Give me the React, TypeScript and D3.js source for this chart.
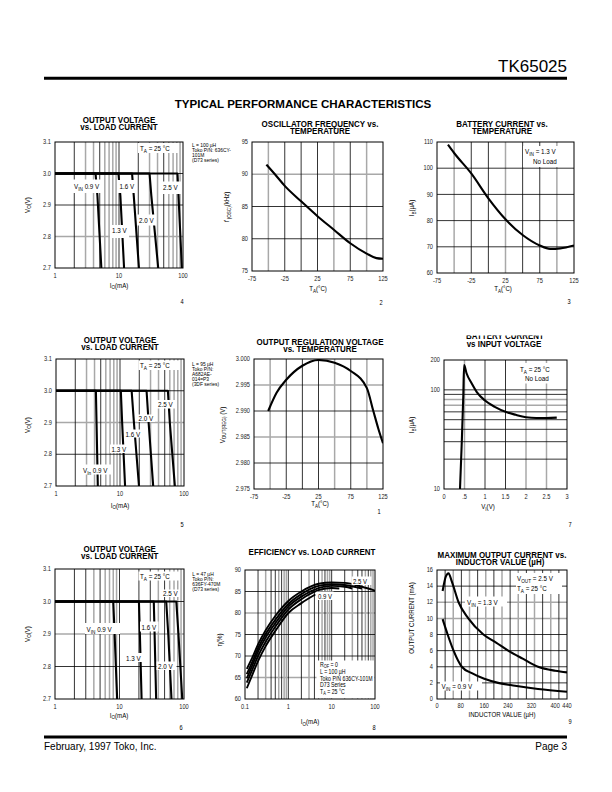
import React from 'react';
import * as d3 from 'd3';

type Pt = [number, number];
type Part = [string, string?];

const FF = '"Liberation Sans", Arial, Helvetica, sans-serif';
const GRAY = '#a8a8a8';

// ---------------- shared axis values ----------------
const loadTicks = [1, 10, 100];
const voTicks = [2.7, 2.8, 2.9, 3.0, 3.1];
const tempTicks = [-75, -25, 25, 75, 125];
const tempGrid = [-50, -25, 0, 25, 50, 75, 100];

// ---------------- graph 4 : L = 100 uH ----------------
const g4Drop = [3.0, 3.0, 2.93, 2.7];
const g4I09 = [1, 4.3, 4.6, 5.3];
const g4I13 = [1, 9.8, 10.5, 12];
const g4I16 = [1, 16, 17, 20.5];
const g4I20 = [1, 30, 32, 41];
const g4I25 = [1, 82, 85, 96];

// ---------------- graph 5 : L = 95 uH ----------------
const g5Drop = [3.0, 3.0, 2.9, 2.7];
const g5I09 = [1, 4.2, 4.3, 4.5];
const g5I13 = [1, 10.3, 10.8, 12];
const g5I16 = [1, 15.2, 16.5, 19.8];
const g5I20 = [1, 26, 28, 33];
const g5I25 = [1, 56, 60, 72];

// ---------------- graph 6 : L = 47 uH ----------------
const g6Drop = [3.0, 3.0, 2.9, 2.7];
const g6I09 = [1, 8.0, 8.4, 9.2];
const g6I13 = [1, 20, 20.7, 22];
const g6I16 = [1, 34, 35, 37];
const g6I20 = [1, 53, 57, 64];
const g6I25 = [1, 76, 82, 94];

// ---------------- graph 2 : oscillator frequency ----------------
const oscTicks = [75, 80, 85, 90, 95];
const oscTemp = [-53, -40, -25, 0, 25, 50, 75, 100, 115, 125];
const oscFreq = [91.5, 90.0, 88.2, 85.8, 83.5, 81.4, 79.3, 77.7, 77.0, 76.9];

// ---------------- graph 3 : battery current vs temperature ----------------
const batTicks = [60, 70, 80, 90, 100, 110];
const batTemp = [-59, -50, -25, 0, 25, 50, 75, 90, 105, 125];
const batCur = [109, 105.8, 98, 88.5, 80.5, 74.5, 70.5, 69.2, 69.4, 70.5];

// ---------------- graph 1 : output regulation voltage ----------------
const regTicks = [2.975, 2.98, 2.985, 2.99, 2.995, 3.0];
const regTemp = [-53, -40, -25, 0, 25, 50, 75, 100, 110, 118, 125];
const regVolt = [2.99, 2.9935, 2.996, 2.9987, 2.9998, 2.9993, 2.9977, 2.9944, 2.99, 2.9865, 2.9838];

// ---------------- graph 7 : battery current vs input voltage ----------------
const vinTicks = [0, 0.5, 1, 1.5, 2, 2.5, 3];
const vinTickLabels = ['0', '.5', '1', '1.5', '2', '2.5', '3'];
const ibTicks = [10, 100, 200];
const vinV = [0.39, 0.43, 0.47, 0.49, 0.55, 0.67, 0.8, 1.0, 1.25, 1.5, 1.75, 2.0, 2.25, 2.5, 2.75];
const vinIb = [10, 27, 85, 178, 147, 117, 95, 78, 67, 60, 56, 53, 52, 52, 52.5];

// ---------------- graph 8 : efficiency ----------------
const effLoadTicks = [0.1, 1, 10, 100];
const effLoadLabels = ['0.1', '1', '10', '100'];
const effTicks = [60, 65, 70, 75, 80, 85, 90];
const eff09I = [0.11, 0.15, 0.2, 0.3, 0.5, 1, 2, 4.2];
const eff09E = [62.5, 65.8, 68.8, 72.3, 75.8, 80, 82.3, 84.3];
const eff13I = [0.11, 0.15, 0.2, 0.3, 0.5, 1, 2, 5, 10, 15];
const eff13E = [63.8, 67, 70, 73.3, 76.8, 80.8, 83.2, 85.3, 85.8, 85.7];
const eff16I = [0.11, 0.15, 0.2, 0.3, 0.5, 1, 2, 5, 10, 20, 30];
const eff16E = [64.8, 68, 71, 74.3, 77.6, 81.5, 83.8, 85.8, 86.3, 86.1, 85.7];
const eff20I = [0.11, 0.15, 0.2, 0.3, 0.5, 1, 2, 5, 10, 20, 50];
const eff20E = [65.8, 68.8, 71.8, 75.1, 78.4, 82.1, 84.4, 86.3, 86.7, 86.5, 85.7];
const eff25I = [0.11, 0.15, 0.2, 0.3, 0.5, 1, 2, 5, 10, 20, 50, 100];
const eff25E = [67, 69.8, 72.7, 76, 79.3, 82.8, 85, 86.8, 87.1, 87, 86.1, 85.2];

// ---------------- graph 9 : max output current vs inductor ----------------
const indTicks = [0, 80, 160, 240, 320, 400, 440];
const ioTicks = [0, 2, 4, 6, 8, 10, 12, 14, 16];
const ind13L = [19, 30, 39, 50, 73, 106, 157, 200, 241, 290, 342, 400, 440];
const ind13I = [13.4, 15.2, 15.6, 14.6, 12, 10, 8, 7, 6, 5, 4, 3.5, 3.3];
const ind09L = [19, 36, 56, 84, 118, 160, 207, 264, 342, 440];
const ind09I = [9.9, 8, 6, 4, 3.2, 2.5, 2, 1.65, 1.25, 0.9];

// ---------------- helpers ----------------
const zip = (xs: number[], ys: number[]): Pt[] => xs.map((x, i) => [x, ys[i]] as Pt);
const mant = (v: number) => Math.round(v / Math.pow(10, Math.floor(Math.log10(v) + 1e-9)));

function parts(ps: Part[], fs: number) {
  let cur = 0;
  return ps.map(([s, k], i) => {
    const small = k === 's' || k === 'u';
    const target = k === 's' ? fs * 0.28 : k === 'u' ? -fs * 0.35 : 0;
    const dy = target - cur;
    cur = target;
    return (
      <tspan key={i} dy={dy} fontSize={small ? fs * 0.75 : fs} fontStyle={k === 'i' ? 'italic' : undefined}>
        {s}
      </tspan>
    );
  });
}

function Txt({ x, y, fs = 7, sx = 0.86, a = 'start', b = false, rot = 0, fill = '#000', children }: any) {
  return (
    <text
      transform={`translate(${x},${y}) rotate(${rot}) scale(${sx},1)`}
      fontSize={fs}
      textAnchor={a}
      fontWeight={b ? 'bold' : 'normal'}
      fill={fill}
      fontFamily={FF}
    >
      {children}
    </text>
  );
}

function Lbl({ box, tx, ty, fs = 7.3, sx = 0.86, ps }: any) {
  return (
    <g>
      {box && <rect x={box[0]} y={box[1]} width={box[2]} height={box[3]} fill="#fff" />}
      {ps && (
        <Txt x={tx} y={ty} fs={fs} sx={sx}>
          {parts(ps, fs)}
        </Txt>
      )}
    </g>
  );
}

const YLab = ({ x, y, ps, fs = 6.8 }: any) => (
  <Txt x={x} y={y} fs={fs} sx={0.9} a="middle" rot={-90}>
    {parts(ps, fs)}
  </Txt>
);
const XLab = ({ x, y, ps, fs = 6.8 }: any) => (
  <Txt x={x} y={y} fs={fs} sx={0.9} a="middle">
    {parts(ps, fs)}
  </Txt>
);
const Num = ({ x, y, s }: any) => (
  <Txt x={x} y={y} fs={6.3} a="middle" sx={0.9}>
    {s}
  </Txt>
);
const Note = ({ x, y0, lines }: any) => (
  <g>
    {lines.map((s: string, i: number) => (
      <Txt key={i} x={x} y={y0 + i * 5.1} fs={5.6} sx={0.88}>
        {s}
      </Txt>
    ))}
  </g>
);
const Title = ({ x, ys, lines }: any) => (
  <g>
    {lines.map((s: string, i: number) => (
      <Txt key={i} x={Array.isArray(x) ? x[i] : x} y={ys[i]} fs={8.6} sx={0.93} a="middle" b>
        {s}
      </Txt>
    ))}
  </g>
);

const logGrid = (x: any, lo: number, hi: number, gray: number[]): [number, boolean][] =>
  x
    .ticks()
    .filter((v: number) => v > lo * 1.001 && v < hi * 0.999)
    .map((v: number) => [v, gray.includes(mant(v))] as [number, boolean]);

function Panel(p: any) {
  const { id, l, r, t, b, x, y, vg, hg, xt, yt, lines, curve = d3.curveLinear, sw = 2.1, xtDy = 10, children } = p;
  const gen = d3
    .line<Pt>()
    .x((d) => x(d[0]))
    .y((d) => y(d[1]))
    .curve(curve);
  const grid = (gray: boolean) => [
    ...vg
      .filter((g: [number, boolean]) => g[1] === gray)
      .map(([v]: [number, boolean]) => (
        <line key={'v' + v} x1={x(v)} x2={x(v)} y1={t} y2={b} stroke={gray ? GRAY : '#000'} strokeWidth={gray ? 1.5 : 0.8} />
      )),
    ...hg
      .filter((g: [number, boolean]) => g[1] === gray)
      .map(([v]: [number, boolean]) => (
        <line key={'h' + v} x1={l} x2={r} y1={y(v)} y2={y(v)} stroke={gray ? GRAY : '#000'} strokeWidth={gray ? 1.5 : 0.8} />
      )),
  ];
  return (
    <g>
      <defs>
        <clipPath id={id}>
          <rect x={l} y={t} width={r - l} height={b - t} />
        </clipPath>
      </defs>
      <g>{grid(true)}</g>
      <g>{grid(false)}</g>
      <g clipPath={`url(#${id})`}>
        {lines.map((s: Pt[], i: number) => (
          <path key={i} d={gen(s) || ''} fill="none" stroke="#000" strokeWidth={sw} strokeLinejoin="round" />
        ))}
      </g>
      {children}
      <rect x={l} y={t} width={r - l} height={b - t} fill="none" stroke="#000" strokeWidth={1} />
      {xt.map(([v, s]: [number, string]) => (
        <Txt key={'xt' + v} x={x(v)} y={b + xtDy} fs={6.3} sx={0.9} a="middle" fill="#222">
          {s}
        </Txt>
      ))}
      {yt.map(([v, s]: [number, string]) => (
        <Txt key={'yt' + v} x={l - 4} y={y(v) + 2.2} fs={6.3} sx={0.9} a="end" fill="#222">
          {s}
        </Txt>
      ))}
    </g>
  );
}

const TA: Part[] = [['T'], ['A', 's'], [' = 25 °C']];
const IOmA: Part[] = [['I'], ['O', 's'], ['(mA)']];
const VOV: Part[] = [['V'], ['O', 's'], ['(V)']];
const TAC: Part[] = [['T'], ['A', 's'], ['(°C)']];
const IBuA: Part[] = [['I'], ['B', 's'], ['(µA)']];

// ---------------- graphs ----------------
function G4() {
  const l = 55, r = 183, t = 142, b = 268;
  const x = d3.scaleLog().domain([1, 100]).range([l, r]);
  const y = d3.scaleLinear().domain([2.7, 3.1]).range([b, t]);
  const lines = [g4I09, g4I13, g4I16, g4I20, g4I25].map((xs) => zip(xs, g4Drop));
  return (
    <g>
      <Title x={119} ys={[123.1, 130.4]} lines={['OUTPUT VOLTAGE', 'vs. LOAD CURRENT']} />
      <Panel
        id="g4" l={l} r={r} t={t} b={b} x={x} y={y}
        vg={logGrid(x, 1, 100, [3, 4, 6, 7, 8, 9])}
        hg={[[2.8, true], [2.9, false], [3.0, false]]}
        xt={loadTicks.map((v) => [v, String(v)])}
        yt={voTicks.map((v) => [v, v.toFixed(1)])}
        lines={lines}
      >
        <Lbl box={[138, 143, 41, 10]} tx={140} ty={151} ps={TA} />
        <Lbl box={[72.5, 179.5, 29, 13.5]} tx={74} ty={188.5} ps={[['V'], ['IN', 's'], [' 0.9 V']]} />
        <Lbl box={[118, 180, 18, 13]} tx={119.5} ty={188.5} ps={[['1.6 V']]} />
        <Lbl box={[161.5, 181.5, 20, 12.5]} tx={163} ty={190} ps={[['2.5 V']]} />
        <Lbl box={[137, 214.5, 19, 11]} tx={139} ty={222.5} ps={[['2.0 V']]} />
        <Lbl box={[110, 225, 19, 13]} tx={112} ty={233} ps={[['1.3 V']]} />
      </Panel>
      <YLab x={29.5} y={205} ps={VOV} />
      <XLab x={119} y={287.5} ps={IOmA} />
      <Num x={182} y={304} s="4" />
      <Note x={192} y0={146.5} lines={['L = 100 µH', 'Toko P/N: 636CY-', '101M', '(D73 series)']} />
    </g>
  );
}

function G2() {
  const l = 252, r = 383, t = 142, b = 271;
  const x = d3.scaleLinear().domain([-75, 125]).range([l, r]);
  const y = d3.scaleLinear().domain([75, 95]).range([b, t]);
  return (
    <g>
      <Title x={320} ys={[127.3, 134]} lines={['OSCILLATOR FREQUENCY vs.', 'TEMPERATURE']} />
      <Panel
        id="g2" l={l} r={r} t={t} b={b} x={x} y={y}
        vg={tempGrid.map((v) => [v, [-50, 50, 100].includes(v)])}
        hg={[[80, false], [85, false], [90, true]]}
        xt={tempTicks.map((v) => [v, String(v)])}
        yt={oscTicks.map((v) => [v, String(v)])}
        lines={[zip(oscTemp, oscFreq)]}
        curve={d3.curveMonotoneX}
      />
      <YLab x={229} y={207} ps={[['f', 'i'], [' (OSC)', 's'], ['(kHz)']]} />
      <XLab x={318} y={291} ps={TAC} />
      <Num x={381} y={305} s="2" />
    </g>
  );
}

function G3() {
  const l = 437, r = 574, t = 142, b = 273;
  const x = d3.scaleLinear().domain([-75, 125]).range([l, r]);
  const y = d3.scaleLinear().domain([60, 110]).range([b, t]);
  return (
    <g>
      <Title x={502} ys={[127.3, 134]} lines={['BATTERY CURRENT vs.', 'TEMPERATURE']} />
      <Panel
        id="g3" l={l} r={r} t={t} b={b} x={x} y={y}
        vg={tempGrid.map((v) => [v, [-50, 25, 100].includes(v)])}
        hg={[[70, false], [80, false], [90, false], [100, false]]}
        xt={tempTicks.map((v) => [v, String(v)])}
        yt={batTicks.map((v) => [v, String(v)])}
        lines={[zip(batTemp, batCur)]}
        curve={d3.curveMonotoneX}
      >
        <Lbl box={[523, 146, 40, 21]} tx={525} ty={154} ps={[['V'], ['IN', 's'], [' = 1.3 V']]} />
        <Lbl tx={533} ty={164} ps={[['No Load']]} />
      </Panel>
      <YLab x={414} y={208} ps={IBuA} />
      <XLab x={503} y={291} ps={TAC} />
      <Num x={569} y={304} s="3" />
    </g>
  );
}

function G5() {
  const l = 56, r = 184, t = 359, b = 486;
  const x = d3.scaleLog().domain([1, 100]).range([l, r]);
  const y = d3.scaleLinear().domain([2.7, 3.1]).range([b, t]);
  const lines = [g5I09, g5I13, g5I16, g5I20, g5I25].map((xs) => zip(xs, g5Drop));
  return (
    <g>
      <Title x={120} ys={[343.4, 350.1]} lines={['OUTPUT VOLTAGE', 'vs. LOAD CURRENT']} />
      <Panel
        id="g5" l={l} r={r} t={t} b={b} x={x} y={y}
        vg={logGrid(x, 1, 100, [3, 4, 6, 7, 8, 9])}
        hg={[[2.8, false], [2.9, true], [3.0, false]]}
        xt={loadTicks.map((v) => [v, String(v)])}
        yt={voTicks.map((v) => [v, v.toFixed(1)])}
        lines={lines}
      >
        <Lbl box={[138.5, 360.5, 41.5, 9.5]} tx={140} ty={368} ps={TA} />
        <Lbl box={[156.5, 400, 20, 8.5]} tx={158} ty={407} ps={[['2.5 V']]} />
        <Lbl box={[137, 414.5, 18, 7.5]} tx={138.5} ty={421} ps={[['2.0 V']]} />
        <Lbl box={[124, 429.5, 18, 8]} tx={125.5} ty={436.5} ps={[['1.6 V']]} />
        <Lbl box={[110, 444.5, 18.5, 8.5]} tx={111.5} ty={451.5} ps={[['1.3 V']]} />
        <Lbl box={[81.5, 464.5, 30, 10]} tx={83} ty={472.5} ps={[['V'], ['In', 's'], [' 0.9 V']]} />
      </Panel>
      <YLab x={29.5} y={425} ps={VOV} />
      <XLab x={120} y={507.5} ps={IOmA} />
      <Num x={182} y={527} s="5" />
      <Note x={192} y0={365.5} lines={['L = 95 µH', 'Toko P/N:', 'A682AE-', '014=P3', '(3DF series)']} />
    </g>
  );
}

function G1() {
  const l = 254, r = 383, t = 359, b = 489;
  const x = d3.scaleLinear().domain([-75, 125]).range([l, r]);
  const y = d3.scaleLinear().domain([2.975, 3.0]).range([b, t]);
  return (
    <g>
      <Title x={320} ys={[344.8, 351.8]} lines={['OUTPUT REGULATION VOLTAGE', 'vs. TEMPERATURE']} />
      <Panel
        id="g1" l={l} r={r} t={t} b={b} x={x} y={y}
        vg={tempGrid.map((v) => [v, [-50, 50, 100].includes(v)])}
        hg={[[2.98, false], [2.985, true], [2.99, false], [2.995, true]]}
        xt={tempTicks.map((v) => [v, String(v)])}
        yt={regTicks.map((v) => [v, v.toFixed(3)])}
        lines={[zip(regTemp, regVolt)]}
        curve={d3.curveMonotoneX}
      />
      <YLab x={224.5} y={425} ps={[['V'], ['OUT(REG)', 's'], [' (V)']]} />
      <XLab x={320} y={506} ps={TAC} />
      <Num x={379} y={514} s="1" />
    </g>
  );
}

function G7() {
  const l = 444, r = 567, t = 360, b = 489;
  const x = d3.scaleLinear().domain([0, 3]).range([l, r]);
  const y = d3.scaleLog().domain([10, 200]).range([b, t]);
  const hg = y
    .ticks()
    .filter((v: number) => v > 10.5 && v < 199)
    .map((v: number) => [v, [70, 80].includes(v)] as [number, boolean]);
  return (
    <g>
      <defs>
        <clipPath id="g7t">
          <rect x={400} y={335.5} width={200} height={20} />
        </clipPath>
      </defs>
      <g clipPath="url(#g7t)">
        <Title x={[505, 504]} ys={[338.8, 346.5]} lines={['BATTERY CURRENT', 'vs INPUT VOLTAGE']} />
      </g>
      <Panel
        id="g7" l={l} r={r} t={t} b={b} x={x} y={y}
        vg={[[0.5, true], [1, false], [1.5, false], [2, true], [2.5, true]]}
        hg={hg}
        xt={vinTicks.map((v, i) => [v, vinTickLabels[i]])}
        yt={ibTicks.map((v) => [v, String(v)])}
        lines={[zip(vinV, vinIb)]}
        curve={d3.curveMonotoneX}
      >
        <Lbl box={[515, 363, 47, 20.5]} tx={520} ty={372} ps={TA} />
        <Lbl tx={525} ty={380.5} ps={[['No Load']]} />
      </Panel>
      <YLab x={414} y={425} ps={IBuA} />
      <XLab x={488} y={509} ps={[['V'], ['I', 's'], ['(V)']]} />
      <Num x={570} y={527} s="7" />
    </g>
  );
}

function G6() {
  const l = 55, r = 184, t = 569, b = 699;
  const x = d3.scaleLog().domain([1, 100]).range([l, r]);
  const y = d3.scaleLinear().domain([2.7, 3.1]).range([b, t]);
  const lines = [g6I09, g6I13, g6I16, g6I20, g6I25].map((xs) => zip(xs, g6Drop));
  return (
    <g>
      <Title x={119.7} ys={[551.8, 559.1]} lines={['OUTPUT VOLTAGE', 'vs. LOAD CURRENT']} />
      <Panel
        id="g6" l={l} r={r} t={t} b={b} x={x} y={y}
        vg={logGrid(x, 1, 100, [4, 6, 7, 8, 9])}
        hg={[[2.8, false], [2.9, true], [3.0, false]]}
        xt={loadTicks.map((v) => [v, String(v)])}
        yt={voTicks.map((v) => [v, v.toFixed(1)])}
        lines={lines}
      >
        <Lbl box={[138.5, 571.5, 41.5, 9]} tx={140} ty={579} ps={TA} />
        <Lbl box={[161.5, 589.5, 18.5, 7.5]} tx={163} ty={596} ps={[['2.5 V']]} />
        <Lbl box={[85, 623, 35, 11]} tx={86.5} ty={632} ps={[['V'], ['IN', 's'], [' 0.9 V']]} />
        <Lbl box={[140, 621.5, 18.5, 10]} tx={141.5} ty={630} ps={[['1.6 V']]} />
        <Lbl box={[125, 653, 17, 9]} tx={126} ty={660.5} ps={[['1.3 V']]} />
        <Lbl box={[156.5, 661.5, 20, 8.5]} tx={158} ty={668.5} ps={[['2.0 V']]} />
      </Panel>
      <YLab x={29.5} y={634} ps={VOV} />
      <XLab x={119} y={717.5} ps={IOmA} />
      <Num x={181} y={729.5} s="6" />
      <Note x={192.3} y0={575.5} lines={['L = 47 µH', 'Toko P/N:', '636FY-470M', '(D73 series)']} />
    </g>
  );
}

function G8() {
  const l = 245, r = 375, t = 570, b = 699;
  const x = d3.scaleLog().domain([0.1, 100]).range([l, r]);
  const y = d3.scaleLinear().domain([60, 90]).range([b, t]);
  const lines = [
    zip(eff09I, eff09E),
    zip(eff13I, eff13E),
    zip(eff16I, eff16E),
    zip(eff20I, eff20E),
    zip(eff25I, eff25E),
  ];
  const bx = 320;
  return (
    <g>
      <Title x={312} ys={[555.1]} lines={['EFFICIENCY vs. LOAD CURRENT']} />
      <Panel
        id="g8" l={l} r={r} t={t} b={b} x={x} y={y}
        vg={logGrid(x, 0.1, 100, [3, 6, 8, 9])}
        hg={[[65, true], [70, false], [75, false], [80, true], [85, false]]}
        xt={effLoadTicks.map((v, i) => [v, effLoadLabels[i]])}
        yt={effTicks.map((v) => [v, String(v)])}
        lines={lines}
        curve={d3.curveMonotoneX}
        sw={1.9}
      >
        <Lbl box={[351.5, 576.5, 20, 8.5]} tx={353} ty={583.5} fs={7} ps={[['2.5 V']]} />
        <Lbl box={[316.5, 591.5, 17, 8.5]} tx={318} ty={598.5} fs={7} ps={[['0.9 V']]} />
        <Lbl box={[316.5, 660.5, 58, 38]} />
        <Lbl tx={bx} ty={666.6} fs={6.5} sx={0.8} ps={[['R'], ['OF', 's'], [' = 0']]} />
        <Lbl tx={bx} ty={674.3} fs={6.5} sx={0.8} ps={[['L = 100 µH']]} />
        <Lbl tx={bx} ty={680.7} fs={6.5} sx={0.8} ps={[['Toko P/N 636CY-101M']]} />
        <Lbl tx={bx} ty={687.1} fs={6.5} sx={0.8} ps={[['D73 Series']]} />
        <Lbl tx={bx} ty={693.5} fs={6.5} sx={0.8} ps={TA} />
      </Panel>
      <YLab x={222} y={640} ps={[['η(%)']]} />
      <XLab x={310} y={724} ps={IOmA} />
      <Num x={374} y={729.5} s="8" />
    </g>
  );
}

function G9() {
  const l = 437, r = 567, t = 570, b = 699;
  const x = d3.scaleLinear().domain([0, 440]).range([l, r]);
  const y = d3.scaleLinear().domain([0, 16]).range([b, t]);
  const vg = d3.range(27.5, 439, 27.5).map((v, i) => [v, i % 2 === 1] as [number, boolean]);
  const hg = ioTicks.filter((v) => v > 0 && v < 16).map((v) => [v, [10, 12].includes(v)] as [number, boolean]);
  return (
    <g>
      <Title x={[502, 500]} ys={[558, 565.4]} lines={['MAXIMUM OUTPUT CURRENT  vs.', 'INDUCTOR VALUE (µH)']} />
      <Panel
        id="g9" l={l} r={r} t={t} b={b} x={x} y={y}
        vg={vg}
        hg={hg}
        xt={indTicks.map((v) => [v, String(v)])}
        yt={ioTicks.map((v) => [v, String(v)])}
        lines={[zip(ind13L, ind13I), zip(ind09L, ind09I)]}
        curve={d3.curveMonotoneX}
        xtDy={8.5}
      >
        <Lbl box={[516, 573, 46, 21]} tx={517} ty={580.5} ps={[['V'], ['OUT', 's'], [' = 2.5 V']]} />
        <Lbl tx={517} ty={591} ps={TA} />
        <Lbl box={[465, 596.5, 42, 10]} tx={467} ty={604.5} ps={[['V'], ['IN', 's'], [' = 1.3 V']]} />
        <Lbl box={[440, 681.5, 42, 9]} tx={441.5} ty={688.5} ps={[['V'], ['IN', 's'], [' = 0.9 V']]} />
      </Panel>
      <YLab x={413.5} y={618} ps={[['OUTPUT CURRENT (mA)']]} />
      <XLab x={502} y={717} ps={[['INDUCTOR VALUE (µH)']]} />
      <Num x={570} y={723.5} s="9" />
    </g>
  );
}

export default function App() {
  return (
    <svg
      width={612}
      height={792}
      viewBox="0 0 612 792"
      style={{ position: 'absolute', left: 0, top: 0, background: '#fff' }}
      xmlns="http://www.w3.org/2000/svg"
    >
      <rect x={0} y={0} width={612} height={792} fill="#fff" />
      <Txt x={567} y={72} fs={17} sx={1} a="end">
        TK65025
      </Txt>
      <line x1={44} x2={567} y1={78.3} y2={78.3} stroke="#000" strokeWidth={3} />
      <Txt x={303} y={108} fs={11.8} sx={0.98} a="middle" b>
        TYPICAL PERFORMANCE CHARACTERISTICS
      </Txt>
      <G4 />
      <G2 />
      <G3 />
      <G5 />
      <G1 />
      <G7 />
      <G6 />
      <G8 />
      <G9 />
      <line x1={44} x2={567} y1={737} y2={737} stroke="#000" strokeWidth={3} />
      <Txt x={44} y={750} fs={10} sx={1}>
        February, 1997 Toko, Inc.
      </Txt>
      <Txt x={567} y={750} fs={10} sx={1} a="end">
        Page 3
      </Txt>
    </svg>
  );
}
